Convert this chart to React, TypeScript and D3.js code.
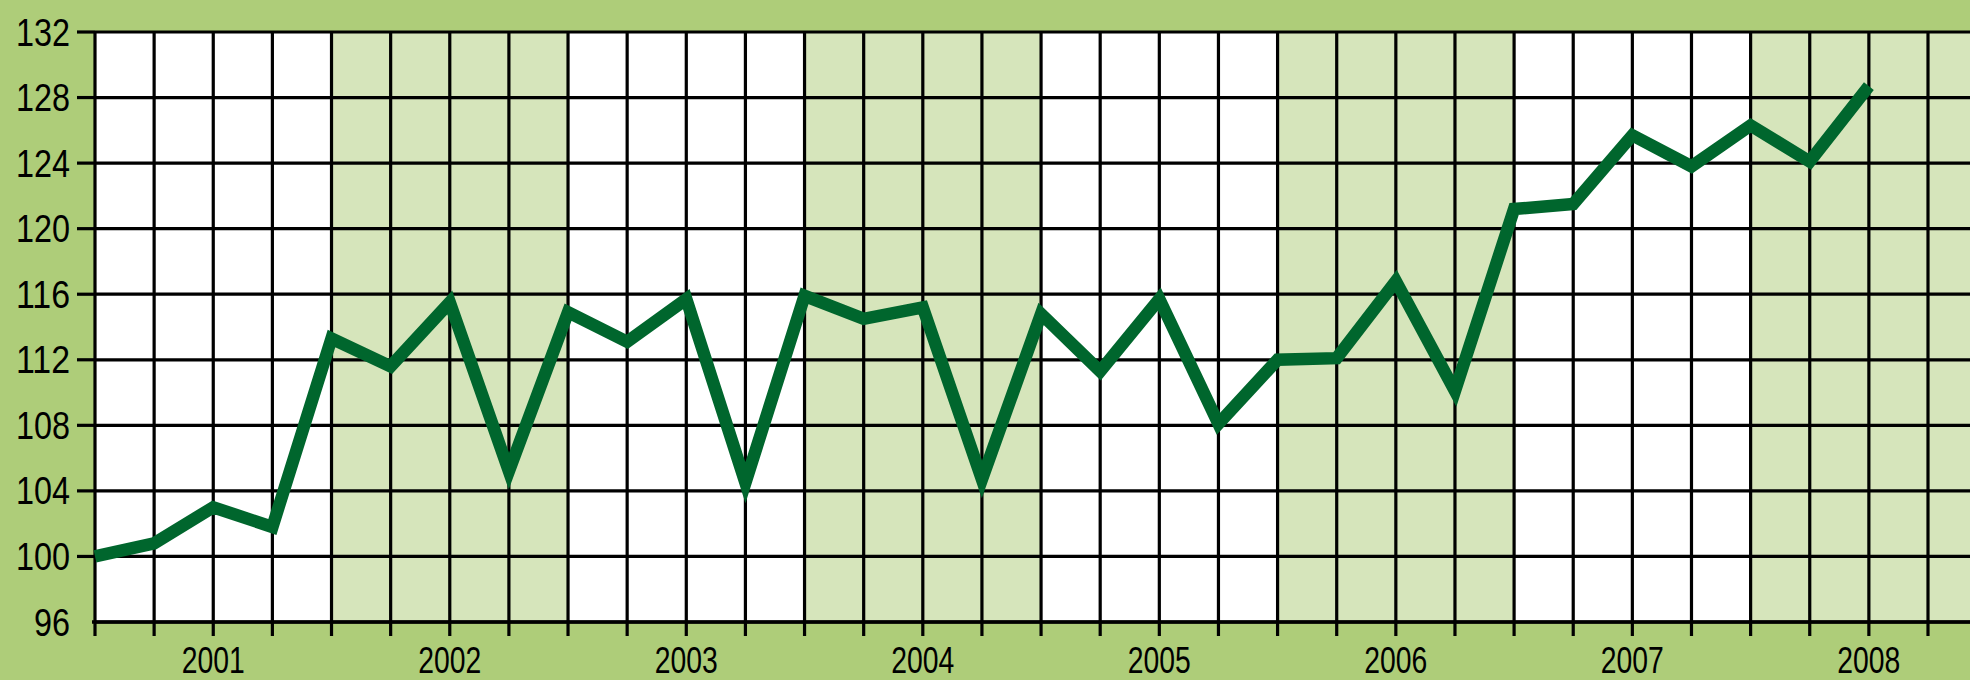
import React from "react";
import * as d3 from "d3";

// Quarterly index values (one per vertical grid line, starting at the left axis)
const values: number[] = [
  100.0, 100.8, 103.0, 101.8, 113.3, 111.6, 115.5, 105.2, 114.9, 113.1, 115.7,
  104.5, 115.9, 114.5, 115.2, 104.7, 114.8, 111.3, 115.7, 108.1, 112.0, 112.1,
  116.8, 110.1, 121.2, 121.5, 125.7, 123.8, 126.3, 124.1, 128.7,
];
const yTicks: number[] = [96, 100, 104, 108, 112, 116, 120, 124, 128, 132];
const yearLabels: string[] = ["2001", "2002", "2003", "2004", "2005", "2006", "2007", "2008"];
const yearLabelIndex: number[] = [2, 6, 10, 14, 18, 22, 26, 30];

const W = 1970;
const H = 680;
const BG = "#aecd79";
const BAND = "#d6e5bb";
const LINE = "#00662d";
const FONT = "'Liberation Sans', Arial, sans-serif";

export default function App() {
  const nSlots = 31;
  const x = d3.scaleLinear().domain([0, nSlots]).range([95, 1928]);
  const y = d3.scaleLinear().domain([96, 132]).range([622, 32]);
  const top = y(132);
  const bottom = y(96);
  const left = x(0);

  const bandCount = Math.ceil((nSlots + 1) / 4);
  const bands = d3.range(bandCount).map((k) => ({
    x0: x(k * 4),
    x1: x(k * 4 + 4),
    fill: k % 2 === 1 ? BAND : "#ffffff",
  }));

  const line = d3
    .line<number>()
    .x((_, i) => x(i))
    .y((d) => y(d));

  const vIdx = d3.range(0, nSlots + 1);

  return (
    <svg
      width={W}
      height={H}
      style={{ position: "absolute", left: 0, top: 0, display: "block" }}
    >
      <rect x={0} y={0} width={W} height={H} fill={BG} />
      {bands.map((b, i) => (
        <rect key={i} x={b.x0} y={top} width={Math.min(b.x1, W) - b.x0} height={bottom - top} fill={b.fill} />
      ))}
      {/* horizontal grid lines */}
      {yTicks.map((t) => (
        <line key={"h" + t} x1={left} x2={W} y1={y(t)} y2={y(t)} stroke="#000" strokeWidth={3.2} />
      ))}
      {/* vertical grid lines + ticks below */}
      {vIdx.map((i) => (
        <line key={"v" + i} x1={x(i)} x2={x(i)} y1={top} y2={bottom + 14} stroke="#000" strokeWidth={3.2} />
      ))}
      {/* y ticks */}
      {yTicks.filter((t) => t !== 96).map((t) => (
        <line key={"yt" + t} x1={77} x2={left} y1={y(t)} y2={y(t)} stroke="#000" strokeWidth={3.2} />
      ))}
      <line x1={left - 3} x2={W} y1={bottom} y2={bottom} stroke="#000" strokeWidth={3.5} />
      {/* data line */}
      <path
        d={line(values) || ""}
        fill="none"
        stroke={LINE}
        strokeWidth={12.5}
        strokeLinejoin="miter"
        strokeMiterlimit={10}
        strokeLinecap="butt"
      />
      {/* y labels */}
      {yTicks.map((t) => {
        const s = String(t);
        return (
          <text
            key={"yl" + t}
            x={70}
            y={y(t) + 13.5}
            textAnchor="end"
            fontFamily={FONT}
            fontSize={38}
            fill="#000"
            textLength={s.length * 18}
            lengthAdjust="spacingAndGlyphs"
          >
            {s}
          </text>
        );
      })}
      {/* x labels */}
      {yearLabels.map((lab, i) => (
        <text
          key={lab}
          x={x(yearLabelIndex[i])}
          y={673}
          textAnchor="middle"
          fontFamily={FONT}
          fontSize={37}
          fill="#000"
          textLength={63}
          lengthAdjust="spacingAndGlyphs"
        >
          {lab}
        </text>
      ))}
    </svg>
  );
}
